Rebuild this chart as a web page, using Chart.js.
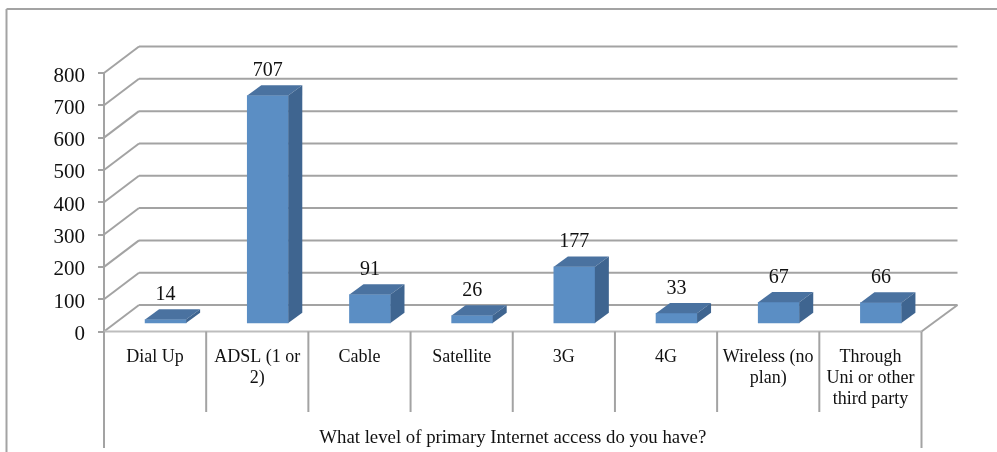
<!DOCTYPE html>
<html>
<head>
<meta charset="utf-8">
<style>
  html, body { margin: 0; padding: 0; background: #fff; }
  canvas { display: block; }
</style>
</head>
<body>
<canvas id="chart" width="997" height="452"></canvas>
<script src="https://cdn.jsdelivr.net/npm/chart.js@4/dist/chart.umd.min.js"></script>
<script>
const categories = [
  "Dial Up",
  ["ADSL (1 or", "2)"],
  "Cable",
  "Satellite",
  "3G",
  "4G",
  ["Wireless (no", "plan)"],
  ["Through", "Uni or other", "third party"],
];
const counts = [14, 707, 91, 26, 177, 33, 67, 66];
const yTicks = [0, 100, 200, 300, 400, 500, 600, 700, 800];
const axisTitle = "What level of primary Internet access do you have?";

const SERIF = '"Liberation Serif", "Times New Roman", serif';
const GRID = "#a3a3a3";
const WALL_DX = 35;
const WALL_DY = -26.5;
const BAR_SHIFT_X = 10.5;
const BAR_SHIFT_Y = -7.5;
const BAR_DX = 14;
const BAR_DY = -10.3;

function line(ctx, x1, y1, x2, y2) {
  ctx.beginPath();
  ctx.moveTo(x1, y1);
  ctx.lineTo(x2, y2);
  ctx.stroke();
}

function face(ctx, color, pts) {
  ctx.fillStyle = color;
  ctx.beginPath();
  pts.forEach(([x, y], i) => (i ? ctx.lineTo(x, y) : ctx.moveTo(x, y)));
  ctx.closePath();
  ctx.fill();
}

// frame, back wall grid, floor and category dividers
const wallPlugin = {
  id: "wall",
  beforeDatasetsDraw(chart) {
    const { ctx, scales, chartArea } = chart;
    const { left, right, bottom } = chartArea;
    ctx.save();
    ctx.strokeStyle = GRID;
    ctx.lineWidth = 2;

    line(ctx, 6.5, 452, 6.5, 9);
    line(ctx, 6.5, 9, 997, 9);

    yTicks.forEach((v) => {
      const y = scales.y.getPixelForValue(v);
      line(ctx, left, y, left + WALL_DX, y + WALL_DY);
      line(ctx, left + WALL_DX, y + WALL_DY, right + WALL_DX + 1, y + WALL_DY);
    });

    line(ctx, right, bottom, right + WALL_DX + 1, bottom + WALL_DY);
    ctx.strokeStyle = "#bdbdbd";
    line(ctx, left, bottom, right, bottom);
    ctx.strokeStyle = GRID;

    const step = (right - left) / categories.length;
    categories.forEach((c, i) => {
      const x = left + step * i;
      line(ctx, x, bottom, x, i === 0 ? 448 : 412);
    });
    line(ctx, right, bottom, right, 448);
    ctx.restore();
  },
  // native bar is the front face, moved back onto the floor
  beforeDatasetDraw(chart) {
    chart.ctx.save();
    chart.ctx.translate(BAR_SHIFT_X, BAR_SHIFT_Y);
  },
  afterDatasetDraw(chart) {
    const { ctx } = chart;
    chart.getDatasetMeta(0).data.forEach((bar, i) => {
      const l = bar.x - bar.width / 2;
      const r = bar.x + bar.width / 2;
      face(ctx, "#4a72a0", [
        [l, bar.y],
        [r, bar.y],
        [r + BAR_DX, bar.y + BAR_DY],
        [l + BAR_DX, bar.y + BAR_DY],
      ]);
      face(ctx, "#3f6590", [
        [r, bar.y],
        [r + BAR_DX, bar.y + BAR_DY],
        [r + BAR_DX, bar.base + BAR_DY],
        [r, bar.base],
      ]);
      ctx.fillStyle = "#111";
      ctx.font = "20px " + SERIF;
      ctx.textAlign = "center";
      ctx.textBaseline = "middle";
      ctx.fillText(String(counts[i]), bar.x, bar.y - 25);
    });
    ctx.restore();
  },
};

new Chart(document.getElementById("chart"), {
  type: "bar",
  data: {
    labels: categories,
    datasets: [
      {
        data: counts,
        backgroundColor: "#5b8ec4",
        barThickness: 41,
      },
    ],
  },
  options: {
    responsive: false,
    animation: false,
    layout: {
      padding: { top: 73, right: 75.5, bottom: 0, left: 0 },
    },
    plugins: {
      legend: { display: false },
      tooltip: { enabled: false },
    },
    scales: {
      x: {
        afterFit(scale) {
          scale.height = 120.5;
        },
        grid: { display: false },
        border: { display: false },
        ticks: {
          color: "#111",
          font: { family: SERIF, size: 18, lineHeight: 1.17 },
          maxRotation: 0,
          autoSkip: false,
          padding: 7,
        },
        title: {
          display: true,
          text: axisTitle,
          color: "#111",
          font: { family: SERIF, size: 18.8 },
          padding: { top: 0, bottom: 3 },
        },
      },
      y: {
        min: 0,
        max: 800,
        afterFit(scale) {
          scale.width = 104;
        },
        grid: {
          drawOnChartArea: false,
          color: GRID,
          lineWidth: 2,
          tickLength: 6,
        },
        border: { color: GRID, width: 2 },
        ticks: {
          stepSize: 100,
          color: "#111",
          font: { family: SERIF, size: 21 },
          padding: 13,
          labelOffset: 3,
        },
      },
    },
  },
  plugins: [wallPlugin],
});
</script>
</body>
</html>
